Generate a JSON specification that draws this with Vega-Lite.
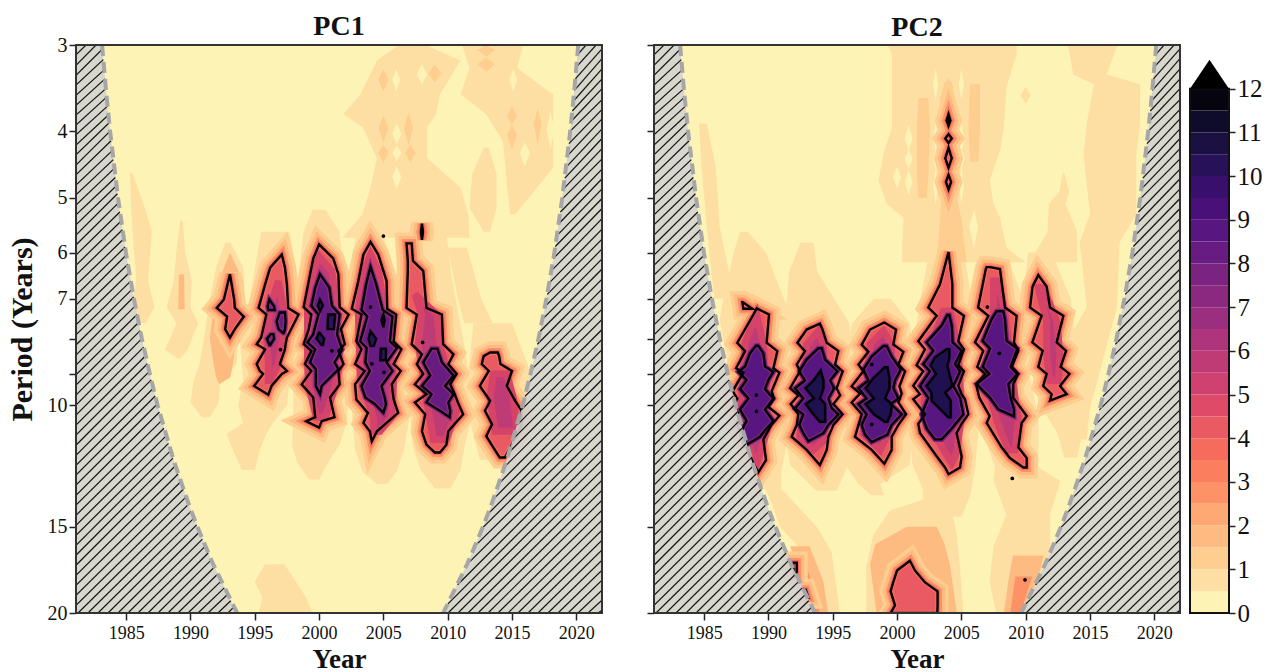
{"$schema":"https://vega.github.io/schema/vega-lite/v6.json","background":"white","padding":{"left":7,"top":13,"right":0,"bottom":0},"spacing":43,
"config":{"view":{"stroke":null},"axis":{"grid":false,"labelFont":"Liberation Serif","titleFont":"Liberation Serif","labelFontSize":18,"titleFontSize":27,"titleFontWeight":"bold","labelColor":"#111","titleColor":"#111","tickColor":"#222","tickWidth":1.5,"tickSize":7,"domain":false},"title":{"font":"Liberation Serif","fontSize":28,"fontWeight":"bold","color":"#111"}},
"datasets":{
"coi":[{"g":"L","p":3,"a":1981.1,"b":1983.13,"c":1983.13},{"g":"L","p":3.5,"a":1981.1,"b":1983.44,"c":1983.44},{"g":"L","p":4,"a":1981.1,"b":1983.75,"c":1983.75},{"g":"L","p":5,"a":1981.1,"b":1984.37,"c":1984.37},{"g":"L","p":6,"a":1981.1,"b":1984.98,"c":1984.98},{"g":"L","p":7,"a":1981.1,"b":1985.6,"c":1985.6},{"g":"L","p":8,"a":1981.1,"b":1986.22,"c":1986.22},{"g":"L","p":9,"a":1981.1,"b":1986.84,"c":1986.84},{"g":"L","p":10,"a":1981.1,"b":1987.45,"c":1987.45},{"g":"L","p":12,"a":1981.1,"b":1988.69,"c":1988.69},{"g":"L","p":14,"a":1981.1,"b":1989.92,"c":1989.92},{"g":"L","p":15,"a":1981.1,"b":1990.54,"c":1990.54},{"g":"L","p":17,"a":1981.1,"b":1991.77,"c":1991.77},{"g":"L","p":20,"a":1981.1,"b":1993.63,"c":1993.63},
{"g":"R","p":3,"a":2020.15,"b":2022,"c":2020.15},{"g":"R","p":3.5,"a":2019.84,"b":2022,"c":2019.84},{"g":"R","p":4,"a":2019.53,"b":2022,"c":2019.53},{"g":"R","p":5,"a":2018.91,"b":2022,"c":2018.91},{"g":"R","p":6,"a":2018.3,"b":2022,"c":2018.3},{"g":"R","p":7,"a":2017.68,"b":2022,"c":2017.68},{"g":"R","p":8,"a":2017.06,"b":2022,"c":2017.06},{"g":"R","p":9,"a":2016.44,"b":2022,"c":2016.44},{"g":"R","p":10,"a":2015.83,"b":2022,"c":2015.83},{"g":"R","p":12,"a":2014.59,"b":2022,"c":2014.59},{"g":"R","p":14,"a":2013.36,"b":2022,"c":2013.36},{"g":"R","p":15,"a":2012.74,"b":2022,"c":2012.74},{"g":"R","p":17,"a":2011.51,"b":2022,"c":2011.51},{"g":"R","p":20,"a":2009.65,"b":2022,"c":2009.65}],
"frame":[{"a":1981.1,"b":2022,"p":3,"q":20}],
"hatch":[{"a":1981.1,"p":3.1,"b":1981.88,"q":3},{"a":1981.1,"p":3.21,"b":1982.66,"q":3},{"a":1981.1,"p":3.32,"b":1983.16,"q":3.04},{"a":1981.1,"p":3.43,"b":1983.22,"q":3.15},{"a":1981.1,"p":3.55,"b":1983.29,"q":3.26},{"a":1981.1,"p":3.67,"b":1983.35,"q":3.36},{"a":1981.1,"p":3.79,"b":1983.42,"q":3.47},{"a":1981.1,"p":3.92,"b":1983.48,"q":3.57},{"a":1981.1,"p":4.05,"b":1983.55,"q":3.68},{"a":1981.1,"p":4.19,"b":1983.62,"q":3.79},{"a":1981.1,"p":4.33,"b":1983.68,"q":3.89},{"a":1981.1,"p":4.48,"b":1983.75,"q":4},{"a":1981.1,"p":4.63,"b":1983.83,"q":4.13},{"a":1981.1,"p":4.79,"b":1983.92,"q":4.27},{"a":1981.1,"p":4.95,"b":1984,"q":4.4},{"a":1981.1,"p":5.12,"b":1984.08,"q":4.53},{"a":1981.1,"p":5.29,"b":1984.16,"q":4.67},{"a":1981.1,"p":5.47,"b":1984.24,"q":4.8},{"a":1981.1,"p":5.66,"b":1984.32,"q":4.93},{"a":1981.1,"p":5.85,"b":1984.42,"q":5.08},{"a":1981.1,"p":6.05,"b":1984.51,"q":5.24},{"a":1981.1,"p":6.26,"b":1984.61,"q":5.4},{"a":1981.1,"p":6.47,"b":1984.71,"q":5.56},{"a":1981.1,"p":6.69,"b":1984.82,"q":5.73},{"a":1981.1,"p":6.92,"b":1984.92,"q":5.89},{"a":1981.1,"p":7.15,"b":1985.01,"q":6.05},{"a":1981.1,"p":7.39,"b":1985.13,"q":6.24},{"a":1981.1,"p":7.64,"b":1985.24,"q":6.42},{"a":1981.1,"p":7.9,"b":1985.35,"q":6.6},{"a":1981.1,"p":8.17,"b":1985.47,"q":6.78},{"a":1981.1,"p":8.45,"b":1985.58,"q":6.96},{"a":1981.1,"p":8.74,"b":1985.71,"q":7.17},{"a":1981.1,"p":9.03,"b":1985.84,"q":7.38},{"a":1981.1,"p":9.34,"b":1985.96,"q":7.58},{"a":1981.1,"p":9.66,"b":1986.09,"q":7.79},{"a":1981.1,"p":9.99,"b":1986.22,"q":8},{"a":1981.1,"p":10.33,"b":1986.36,"q":8.23},{"a":1981.1,"p":10.68,"b":1986.51,"q":8.47},{"a":1981.1,"p":11.04,"b":1986.65,"q":8.7},{"a":1981.1,"p":11.42,"b":1986.79,"q":8.93},{"a":1981.1,"p":11.81,"b":1986.95,"q":9.18},{"a":1981.1,"p":12.21,"b":1987.11,"q":9.44},{"a":1981.1,"p":12.62,"b":1987.26,"q":9.69},{"a":1981.1,"p":13.05,"b":1987.42,"q":9.95},{"a":1981.1,"p":13.5,"b":1987.59,"q":10.22},{"a":1981.1,"p":13.95,"b":1987.77,"q":10.51},{"a":1981.1,"p":14.43,"b":1987.94,"q":10.79},{"a":1981.1,"p":14.92,"b":1988.11,"q":11.07},{"a":1981.1,"p":15.43,"b":1988.29,"q":11.35},{"a":1981.1,"p":15.95,"b":1988.46,"q":11.63},{"a":1981.1,"p":16.49,"b":1988.64,"q":11.92},{"a":1981.1,"p":17.05,"b":1988.83,"q":12.23},{"a":1981.1,"p":17.63,"b":1989.04,"q":12.57},{"a":1981.1,"p":18.23,"b":1989.24,"q":12.9},{"a":1981.1,"p":18.85,"b":1989.45,"q":13.23},{"a":1981.1,"p":19.49,"b":1989.66,"q":13.57},{"a":1981.26,"p":20,"b":1989.86,"q":13.9},{"a":1982.03,"p":20,"b":1990.06,"q":14.23},{"a":1982.81,"p":20,"b":1990.27,"q":14.57},{"a":1983.59,"p":20,"b":1990.48,"q":14.9},{"a":1984.37,"p":20,"b":1990.7,"q":15.26},{"a":1985.14,"p":20,"b":1990.93,"q":15.63},{"a":1985.92,"p":20,"b":1991.16,"q":16},{"a":1986.7,"p":20,"b":1991.38,"q":16.37},{"a":1987.48,"p":20,"b":1991.62,"q":16.75},{"a":1988.25,"p":20,"b":1991.87,"q":17.15},{"a":1989.03,"p":20,"b":1992.12,"q":17.56},{"a":1989.81,"p":20,"b":1992.38,"q":17.98},{"a":1990.59,"p":20,"b":1992.63,"q":18.39},{"a":1991.36,"p":20,"b":1992.88,"q":18.8},{"a":1992.14,"p":20,"b":1993.13,"q":19.2},{"a":1992.92,"p":20,"b":1993.38,"q":19.6},
{"a":2020.09,"p":3.1,"b":2020.76,"q":3},{"a":2020,"p":3.23,"b":2021.54,"q":3},{"a":2019.93,"p":3.36,"b":2022,"q":3.04},{"a":2019.85,"p":3.49,"b":2022,"q":3.14},{"a":2019.77,"p":3.62,"b":2022,"q":3.25},{"a":2019.69,"p":3.74,"b":2022,"q":3.36},{"a":2019.61,"p":3.87,"b":2022,"q":3.47},{"a":2019.53,"p":4,"b":2022,"q":3.6},{"a":2019.43,"p":4.17,"b":2022,"q":3.72},{"a":2019.32,"p":4.34,"b":2022,"q":3.84},{"a":2019.22,"p":4.51,"b":2022,"q":3.97},{"a":2019.11,"p":4.68,"b":2022,"q":4.1},{"a":2019.01,"p":4.85,"b":2022,"q":4.24},{"a":2018.9,"p":5.02,"b":2022,"q":4.39},{"a":2018.77,"p":5.24,"b":2022,"q":4.54},{"a":2018.64,"p":5.45,"b":2022,"q":4.69},{"a":2018.5,"p":5.67,"b":2022,"q":4.85},{"a":2018.37,"p":5.88,"b":2022,"q":5.01},{"a":2018.22,"p":6.12,"b":2022,"q":5.18},{"a":2018.06,"p":6.38,"b":2022,"q":5.36},{"a":2017.9,"p":6.64,"b":2022,"q":5.55},{"a":2017.74,"p":6.9,"b":2022,"q":5.74},{"a":2017.56,"p":7.19,"b":2022,"q":5.93},{"a":2017.37,"p":7.5,"b":2022,"q":6.13},{"a":2017.18,"p":7.81,"b":2022,"q":6.34},{"a":2016.97,"p":8.15,"b":2022,"q":6.56},{"a":2016.75,"p":8.5,"b":2022,"q":6.78},{"a":2016.52,"p":8.87,"b":2022,"q":7.01},{"a":2016.27,"p":9.28,"b":2022,"q":7.25},{"a":2016.01,"p":9.7,"b":2022,"q":7.5},{"a":2015.73,"p":10.15,"b":2022,"q":7.76},{"a":2015.41,"p":10.67,"b":2022,"q":8.02},{"a":2015.1,"p":11.18,"b":2022,"q":8.3},{"a":2014.78,"p":11.69,"b":2022,"q":8.58},{"a":2014.42,"p":12.28,"b":2022,"q":8.87},{"a":2013.99,"p":12.98,"b":2022,"q":9.17},{"a":2013.56,"p":13.67,"b":2022,"q":9.49},{"a":2013.13,"p":14.37,"b":2022,"q":9.81},{"a":2012.71,"p":15.05,"b":2022,"q":10.15},{"a":2012.12,"p":16,"b":2022,"q":10.5},{"a":2011.51,"p":17,"b":2022,"q":10.85},{"a":2010.77,"p":18.2,"b":2022,"q":11.23},{"a":2010.02,"p":19.4,"b":2022,"q":11.61},{"a":2010.03,"p":20,"b":2022,"q":12},{"a":2010.8,"p":20,"b":2022,"q":12.41},{"a":2011.58,"p":20,"b":2022,"q":12.83},{"a":2012.36,"p":20,"b":2022,"q":13.27},{"a":2013.14,"p":20,"b":2022,"q":13.72},{"a":2013.91,"p":20,"b":2022,"q":14.19},{"a":2014.69,"p":20,"b":2022,"q":14.67},{"a":2015.47,"p":20,"b":2022,"q":15.17},{"a":2016.25,"p":20,"b":2022,"q":15.68},{"a":2017.02,"p":20,"b":2022,"q":16.2},{"a":2017.8,"p":20,"b":2022,"q":16.76},{"a":2018.58,"p":20,"b":2022,"q":17.33},{"a":2019.36,"p":20,"b":2022,"q":17.92},{"a":2020.13,"p":20,"b":2022,"q":18.53},{"a":2020.91,"p":20,"b":2022,"q":19.16},{"a":2021.69,"p":20,"b":2022,"q":19.81}],
"p1b":[
{"g":1,"v":0.75,"p":4.6,"a":1985.3,"b":1985.5},{"g":1,"v":0.75,"p":5.2,"a":1985.4,"b":1986.5},{"g":1,"v":0.75,"p":5.6,"a":1985.5,"b":1987},{"g":1,"v":0.75,"p":6.6,"a":1985.8,"b":1986.7},{"g":1,"v":0.75,"p":7.2,"a":1985.4,"b":1987.2},{"g":1,"v":0.75,"p":7.6,"a":1986.2,"b":1986.5},
{"g":2,"v":0.75,"p":5.4,"a":1989.2,"b":1989.4},{"g":2,"v":0.75,"p":6,"a":1988.9,"b":1989.6},{"g":2,"v":0.75,"p":6.6,"a":1988.7,"b":1990.1},{"g":2,"v":0.75,"p":7.2,"a":1988.15,"b":1990},{"g":2,"v":0.75,"p":7.6,"a":1988.9,"b":1990.6},{"g":2,"v":0.75,"p":8,"a":1988.4,"b":1990.1},{"g":2,"v":0.75,"p":8.3,"a":1988,"b":1989.8},{"g":2,"v":0.75,"p":8.55,"a":1989.05,"b":1989.2},
{"g":3,"v":0.75,"p":5.8,"a":1992.7,"b":1993.1},{"g":3,"v":0.75,"p":6.3,"a":1992,"b":1994.1},{"g":3,"v":0.75,"p":7.2,"a":1991.4,"b":1994.3},{"g":3,"v":0.75,"p":7.9,"a":1991.1,"b":1993.7},{"g":3,"v":0.75,"p":8.7,"a":1990.7,"b":1993.6},{"g":3,"v":0.75,"p":9.3,"a":1990.2,"b":1992.3},{"g":3,"v":0.75,"p":9.9,"a":1990,"b":1992.2},{"g":3,"v":0.75,"p":10.4,"a":1990.9,"b":1991.5},
{"g":4,"v":0.75,"p":5.6,"a":1995.5,"b":1997.7},{"g":4,"v":0.75,"p":7.2,"a":1994.5,"b":1998.8},{"g":4,"v":0.75,"p":8.1,"a":1993.85,"b":1998.5},{"g":4,"v":0.75,"p":9.2,"a":1994.1,"b":1997.7},{"g":4,"v":0.75,"p":10,"a":1993.7,"b":1997.5},{"g":4,"v":0.75,"p":10.6,"a":1994.1,"b":1996.4},{"g":4,"v":0.75,"p":11,"a":1992.8,"b":1995.9},{"g":4,"v":0.75,"p":11.6,"a":1993.3,"b":1995.4},{"g":4,"v":0.75,"p":12.4,"a":1994,"b":1995},
{"g":5,"v":0.75,"p":5.2,"a":1999.5,"b":2000.5},{"g":5,"v":0.75,"p":5.6,"a":1998.8,"b":2001.6},{"g":5,"v":0.75,"p":7.2,"a":1998.1,"b":2002.1},{"g":5,"v":0.75,"p":9,"a":1998,"b":2002.3},{"g":5,"v":0.75,"p":10.5,"a":1998,"b":2002.2},{"g":5,"v":0.75,"p":11.4,"a":1997.9,"b":2001.6},{"g":5,"v":0.75,"p":12.1,"a":1998.3,"b":2000.7},{"g":5,"v":0.75,"p":12.8,"a":1999.2,"b":2000},
{"g":6,"v":0.75,"p":5,"a":2003.8,"b":2004.4},{"g":6,"v":0.75,"p":5.6,"a":2002.9,"b":2005},{"g":6,"v":0.75,"p":7.2,"a":2002,"b":2006.2},{"g":6,"v":0.75,"p":9,"a":2002.3,"b":2007.1},{"g":6,"v":0.75,"p":10.5,"a":2002.6,"b":2007},{"g":6,"v":0.75,"p":11.6,"a":2002.8,"b":2006.6},{"g":6,"v":0.75,"p":12.5,"a":2003.4,"b":2006},{"g":6,"v":0.75,"p":13,"a":2004.5,"b":2005.3},
{"g":7,"v":0.75,"p":4.5,"a":2006.5,"b":2009},{"g":7,"v":0.75,"p":5.4,"a":2005.8,"b":2009.8},{"g":7,"v":0.75,"p":6.5,"a":2006.1,"b":2010.3},{"g":7,"v":0.75,"p":8,"a":2006.5,"b":2011.2},{"g":7,"v":0.75,"p":10,"a":2007,"b":2012.1},{"g":7,"v":0.75,"p":11.5,"a":2007.3,"b":2011.3},{"g":7,"v":0.75,"p":12.4,"a":2007.9,"b":2011},{"g":7,"v":0.75,"p":13.2,"a":2009,"b":2010.2},
{"g":8,"v":0.75,"p":7.6,"a":2012,"b":2015},{"g":8,"v":0.75,"p":9,"a":2011.6,"b":2016.5},{"g":8,"v":0.75,"p":10.5,"a":2011.7,"b":2016.5},{"g":8,"v":0.75,"p":12,"a":2012.5,"b":2015},
{"g":9,"v":0.75,"p":17,"a":1995.8,"b":1997.3},{"g":9,"v":0.75,"p":18,"a":1995,"b":1998.2},{"g":9,"v":0.75,"p":19,"a":1995.6,"b":1999},{"g":9,"v":0.75,"p":20,"a":1995.3,"b":1999.5},
{"g":10,"v":0.75,"p":2.99,"a":2006.3,"b":2008.1},{"g":10,"v":0.75,"p":3.16,"a":2004.5,"b":2011},{"g":10,"v":0.75,"p":3.54,"a":2003.2,"b":2009.4},{"g":10,"v":0.75,"p":3.78,"a":2001.9,"b":2009.1},{"g":10,"v":0.75,"p":3.95,"a":2003.4,"b":2008.4},{"g":10,"v":0.75,"p":4.38,"a":2004.5,"b":2008.4},{"g":10,"v":0.75,"p":4.83,"a":2004,"b":2011},{"g":10,"v":0.75,"p":5.28,"a":2003.4,"b":2011.6},{"g":10,"v":0.75,"p":5.71,"a":2001.8,"b":2011.7},
{"g":11,"v":0.75,"p":2.99,"a":2011.1,"b":2015.9},{"g":11,"v":0.75,"p":3.24,"a":2011.7,"b":2015.4},{"g":11,"v":0.75,"p":3.54,"a":2011,"b":2018.2},{"g":11,"v":0.75,"p":3.78,"a":2013,"b":2018.2},{"g":11,"v":0.75,"p":4.14,"a":2014.3,"b":2018.2},{"g":11,"v":0.75,"p":4.52,"a":2014.5,"b":2018.2},{"g":11,"v":0.75,"p":4.77,"a":2014.6,"b":2017.2},{"g":11,"v":0.75,"p":5.28,"a":2014.85,"b":2015.25},
{"g":12,"v":0.75,"p":4.23,"a":2012.8,"b":2013.2},{"g":12,"v":0.75,"p":4.62,"a":2011.9,"b":2013.8},{"g":12,"v":0.75,"p":5.17,"a":2011.7,"b":2013.8},{"g":12,"v":0.75,"p":5.6,"a":2012.8,"b":2013.3},
{"g":13,"v":0.75,"p":5.9,"a":2010,"b":2011.5},{"g":13,"v":0.75,"p":7,"a":2010.8,"b":2012.6},{"g":13,"v":0.75,"p":7.6,"a":2011.3,"b":2013.5},
{"g":14,"v":0.25,"p":3.9,"a":2006.04,"b":2006.04},{"g":14,"v":0.25,"p":4.04,"a":2005.7,"b":2006.4},{"g":14,"v":0.25,"p":4.18,"a":2006.04,"b":2006.04},
{"g":15,"v":0.25,"p":4.2,"a":2006.04,"b":2006.04},{"g":15,"v":0.25,"p":4.3,"a":2005.7,"b":2006.4},{"g":15,"v":0.25,"p":4.42,"a":2006.04,"b":2006.04},
{"g":16,"v":0.25,"p":4.5,"a":2006.04,"b":2006.04},{"g":16,"v":0.25,"p":4.66,"a":2005.7,"b":2006.4},{"g":16,"v":0.25,"p":4.85,"a":2006.04,"b":2006.04},
{"g":17,"v":0.25,"p":3.2,"a":2008,"b":2008},{"g":17,"v":0.25,"p":3.31,"a":2007.6,"b":2008.4},{"g":17,"v":0.25,"p":3.42,"a":2008,"b":2008},
{"g":18,"v":0.25,"p":3.25,"a":2006,"b":2006},{"g":18,"v":0.25,"p":3.37,"a":2005.7,"b":2006.3},{"g":18,"v":0.25,"p":3.5,"a":2006,"b":2006},
{"g":19,"v":0.25,"p":4.15,"a":2016,"b":2016},{"g":19,"v":0.25,"p":4.3,"a":2015.6,"b":2016.4},{"g":19,"v":0.25,"p":4.5,"a":2016,"b":2016},
{"g":20,"v":0.25,"p":3.75,"a":2018,"b":2018},{"g":20,"v":0.25,"p":3.97,"a":2017.7,"b":2018.3},{"g":20,"v":0.25,"p":4.25,"a":2018,"b":2018},
{"g":21,"v":0.25,"p":3.25,"a":2015.1,"b":2015.1},{"g":21,"v":0.25,"p":3.37,"a":2014.8,"b":2015.4},{"g":21,"v":0.25,"p":3.5,"a":2015.1,"b":2015.1},
{"g":22,"v":1.25,"p":3.25,"a":2005,"b":2005},{"g":22,"v":1.25,"p":3.37,"a":2004.6,"b":2005.4},{"g":22,"v":1.25,"p":3.5,"a":2005,"b":2005},
{"g":23,"v":1.25,"p":3.8,"a":2005,"b":2005},{"g":23,"v":1.25,"p":3.96,"a":2004.6,"b":2005.4},{"g":23,"v":1.25,"p":4.15,"a":2005,"b":2005},
{"g":24,"v":1.25,"p":3.75,"a":2006.95,"b":2006.95},{"g":24,"v":1.25,"p":3.96,"a":2006.6,"b":2007.3},{"g":24,"v":1.25,"p":4.2,"a":2006.95,"b":2006.95},
{"g":25,"v":1.25,"p":4.18,"a":2005,"b":2005},{"g":25,"v":1.25,"p":4.3,"a":2004.6,"b":2005.4},{"g":25,"v":1.25,"p":4.45,"a":2005,"b":2005},
{"g":26,"v":1.25,"p":4.18,"a":2007.1,"b":2007.1},{"g":26,"v":1.25,"p":4.3,"a":2006.7,"b":2007.5},{"g":26,"v":1.25,"p":4.45,"a":2007.1,"b":2007.1},
{"g":27,"v":1.25,"p":3.2,"a":2009,"b":2009},{"g":27,"v":1.25,"p":3.3,"a":2008.5,"b":2009.5},{"g":27,"v":1.25,"p":3.4,"a":2009,"b":2009},
{"g":28,"v":1.25,"p":3,"a":2013,"b":2013},{"g":28,"v":1.25,"p":3.05,"a":2012.3,"b":2013.7},{"g":28,"v":1.25,"p":3.12,"a":2013,"b":2013},
{"g":29,"v":1.25,"p":3.13,"a":2013,"b":2013},{"g":29,"v":1.25,"p":3.2,"a":2012.3,"b":2013.7},{"g":29,"v":1.25,"p":3.28,"a":2013,"b":2013},
{"g":30,"v":1.25,"p":3.68,"a":2015,"b":2015},{"g":30,"v":1.25,"p":3.8,"a":2014.6,"b":2015.4},{"g":30,"v":1.25,"p":3.92,"a":2015,"b":2015},
{"g":31,"v":1.25,"p":3.92,"a":2015,"b":2015},{"g":31,"v":1.25,"p":4.05,"a":2014.6,"b":2015.4},{"g":31,"v":1.25,"p":4.25,"a":2015,"b":2015},
{"g":32,"v":1.25,"p":3.7,"a":2017,"b":2017},{"g":32,"v":1.25,"p":3.9,"a":2016.7,"b":2017.3},{"g":32,"v":1.25,"p":4.2,"a":2017,"b":2017},
{"g":33,"v":1.75,"p":6.45,"a":1989.1,"b":1989.5},{"g":33,"v":1.75,"p":7.25,"a":1989.05,"b":1989.55},
{"g":34,"v":1.75,"p":6,"a":1993.07,"b":1993.07},{"g":34,"v":1.75,"p":6.6,"a":1992.2,"b":1994.1},{"g":34,"v":1.75,"p":7.2,"a":1991.8,"b":1994.2},{"g":34,"v":1.75,"p":8,"a":1991.5,"b":1993.6},{"g":34,"v":1.75,"p":8.7,"a":1991.8,"b":1993.3},{"g":34,"v":1.75,"p":9.1,"a":1992,"b":1993.1},{"g":34,"v":1.75,"p":9.3,"a":1992.2,"b":1992.3}],
"p1c4":[
{"g":1,"p":5.84,"a":2000,"b":2000},{"g":1,"p":6.12,"a":1999.55,"b":2001.1},{"g":1,"p":6.45,"a":1999.3,"b":2001.5},{"g":1,"p":7.2,"a":1998.8,"b":2001.6},{"g":1,"p":7.38,"a":1999.4,"b":2002.3},{"g":1,"p":7.75,"a":1999.2,"b":2001.7},{"g":1,"p":8.15,"a":1998.8,"b":2002},{"g":1,"p":8.33,"a":1999.4,"b":2001.5},{"g":1,"p":8.71,"a":1998.9,"b":2001.9},{"g":1,"p":8.91,"a":1999.4,"b":2001.5},{"g":1,"p":9.32,"a":1998.65,"b":2001.6},{"g":1,"p":9.74,"a":1999.55,"b":2000.85},{"g":1,"p":10.4,"a":1999.7,"b":2001.2},{"g":1,"p":10.54,"a":1999,"b":2000.2},{"g":1,"p":10.77,"a":2000,"b":2000},
{"g":2,"p":6.04,"a":1997.1,"b":1997.1},{"g":2,"p":6.31,"a":1996.2,"b":1997.35},{"g":2,"p":6.68,"a":1995.8,"b":1997.5},{"g":2,"p":7.22,"a":1995.3,"b":1997.6},{"g":2,"p":7.38,"a":1995.9,"b":1998.4},{"g":2,"p":7.97,"a":1995.5,"b":1997.5},{"g":2,"p":8.15,"a":1995.15,"b":1997.4},{"g":2,"p":8.29,"a":1995.8,"b":1997.35},{"g":2,"p":8.71,"a":1995.15,"b":1996.95},{"g":2,"p":8.91,"a":1995.4,"b":1997.5},{"g":2,"p":9,"a":1995.65,"b":1997.1},{"g":2,"p":9.37,"a":1994.95,"b":1996.3},{"g":2,"p":9.65,"a":1996.05,"b":1996.05},
{"g":3,"p":5.79,"a":2004,"b":2004},{"g":3,"p":6.04,"a":2003.45,"b":2004.6},{"g":3,"p":6.6,"a":2003.05,"b":2005.25},{"g":3,"p":7.24,"a":2002.55,"b":2005.3},{"g":3,"p":7.38,"a":2003.3,"b":2006},{"g":3,"p":8.07,"a":2002.9,"b":2005.8},{"g":3,"p":8.29,"a":2003.3,"b":2006.4},{"g":3,"p":8.71,"a":2002.8,"b":2005.8},{"g":3,"p":8.91,"a":2003.55,"b":2006.35},{"g":3,"p":9.32,"a":2002.8,"b":2005.65},{"g":3,"p":9.8,"a":2002.9,"b":2005.8},{"g":3,"p":10.25,"a":2003.8,"b":2006.15},{"g":3,"p":10.6,"a":2003.45,"b":2005.25},{"g":3,"p":10.9,"a":2003.95,"b":2004.5},{"g":3,"p":11.27,"a":2004.1,"b":2004.1},
{"g":4,"p":5.82,"a":2006.8,"b":2007.2},{"g":4,"p":6.17,"a":2006.9,"b":2007.3},{"g":4,"p":6.38,"a":2006.9,"b":2008.1},{"g":4,"p":7.22,"a":2006.8,"b":2008.35},{"g":4,"p":7.38,"a":2007.6,"b":2009.55},{"g":4,"p":8.15,"a":2007.2,"b":2009.65},{"g":4,"p":8.43,"a":2008,"b":2010.45},{"g":4,"p":8.71,"a":2007.6,"b":2010.05},{"g":4,"p":9,"a":2008.1,"b":2010.7},{"g":4,"p":9.32,"a":2007.45,"b":2010.2},{"g":4,"p":9.63,"a":2008.35,"b":2010.55},{"g":4,"p":9.9,"a":2007.45,"b":2010.8},{"g":4,"p":10.3,"a":2008.25,"b":2011.2},{"g":4,"p":10.9,"a":2008,"b":2010.05},{"g":4,"p":11.4,"a":2008.35,"b":2009.9},{"g":4,"p":11.7,"a":2009,"b":2009.4},
{"g":5,"p":8.38,"a":2013.3,"b":2013.9},{"g":5,"p":8.48,"a":2012.8,"b":2014},{"g":5,"p":8.71,"a":2012.65,"b":2014.1},{"g":5,"p":8.91,"a":2013.2,"b":2015},{"g":5,"p":9.37,"a":2012.5,"b":2014.6},{"g":5,"p":9.85,"a":2013.3,"b":2015.25},{"g":5,"p":10.18,"a":2012.9,"b":2015.75},{"g":5,"p":10.65,"a":2013.45,"b":2015.75},{"g":5,"p":11.08,"a":2013,"b":2015.35},{"g":5,"p":11.9,"a":2014.05,"b":2014.45},
{"g":6,"p":6.45,"a":1993.07,"b":1993.07},{"g":6,"p":7.02,"a":1992.6,"b":1993.4},{"g":6,"p":7.22,"a":1992.05,"b":1993.45},{"g":6,"p":7.43,"a":1992.85,"b":1994.15},{"g":6,"p":7.75,"a":1992.7,"b":1993.45},{"g":6,"p":7.97,"a":1993.07,"b":1993.07},
{"g":7,"p":5.45,"a":2008,"b":2008},{"g":7,"p":5.6,"a":2007.92,"b":2008.08},{"g":7,"p":5.75,"a":2008,"b":2008}],
"p1m":[
{"g":1,"p":6.6,"a":1996.83,"b":1996.83},{"g":1,"p":7.22,"a":1996.19,"b":1997.22},{"g":1,"p":7.97,"a":1995.93,"b":1997.22},{"g":1,"p":8.71,"a":1996.06,"b":1996.83},{"g":1,"p":9.2,"a":1996.06,"b":1996.19},
{"g":2,"p":6.08,"a":2000.02,"b":2000.02},{"g":2,"p":6.38,"a":1999.55,"b":2000.98},{"g":2,"p":7.22,"a":1999.1,"b":2001.42},{"g":2,"p":8.71,"a":1999.1,"b":2001.63},{"g":2,"p":9.42,"a":1999.2,"b":2001.24},{"g":2,"p":10.4,"a":1999.8,"b":2000.47},
{"g":3,"p":6.04,"a":2004,"b":2004},{"g":3,"p":6.38,"a":2003.45,"b":2004.6},{"g":3,"p":7.3,"a":2003.05,"b":2005.13},{"g":3,"p":9.11,"a":2003.2,"b":2005.8},{"g":3,"p":10.4,"a":2004.22,"b":2005.65},{"g":3,"p":10.9,"a":2004.27,"b":2004.74},
{"g":4,"p":6.9,"a":2007.46,"b":2007.46},{"g":4,"p":7.38,"a":2007.98,"b":2009.15},{"g":4,"p":8.15,"a":2007.72,"b":2009.4},{"g":4,"p":10.18,"a":2008.5,"b":2010.7},{"g":4,"p":11.2,"a":2008.9,"b":2009.9},
{"g":5,"p":9,"a":2013.55,"b":2014.6},{"g":5,"p":9.74,"a":2013.3,"b":2015.1},{"g":5,"p":10.9,"a":2013.68,"b":2015.4}],
"p1c8":[
{"g":1,"p":6.45,"a":2000.07,"b":2000.07},{"g":1,"p":6.75,"a":1999.7,"b":2000.8},{"g":1,"p":7.17,"a":1999.4,"b":2001},{"g":1,"p":7.38,"a":1999.95,"b":2001.6},{"g":1,"p":7.88,"a":1999.55,"b":2001.4},{"g":1,"p":8.1,"a":1999.1,"b":2001.6},{"g":1,"p":8.29,"a":1999.7,"b":2001.8},{"g":1,"p":8.66,"a":1999.3,"b":2001.2},{"g":1,"p":8.86,"a":1999.75,"b":2001.5},{"g":1,"p":9.11,"a":1999.75,"b":2000.85},{"g":1,"p":9.37,"a":1999.75,"b":2000.2},{"g":1,"p":9.63,"a":2000.07,"b":2000.07},
{"g":2,"p":6.29,"a":2004,"b":2004},{"g":2,"p":6.68,"a":2003.65,"b":2004.45},{"g":2,"p":7.27,"a":2003.3,"b":2004.95},{"g":2,"p":7.43,"a":2003.75,"b":2005.7},{"g":2,"p":8.07,"a":2003.2,"b":2005.5},{"g":2,"p":8.25,"a":2003.7,"b":2006.05},{"g":2,"p":8.66,"a":2003.6,"b":2005.25},{"g":2,"p":8.91,"a":2003.95,"b":2005.7},{"g":2,"p":9.37,"a":2003.3,"b":2004.85},{"g":2,"p":9.74,"a":2003.6,"b":2005.1},{"g":2,"p":9.96,"a":2004.35,"b":2005.2},{"g":2,"p":10.25,"a":2005,"b":2005},
{"g":3,"p":8.27,"a":2008.75,"b":2009.2},{"g":3,"p":8.66,"a":2008.1,"b":2009.55},{"g":3,"p":9.05,"a":2008.65,"b":2010.45},{"g":3,"p":9.37,"a":2008,"b":2009.8},{"g":3,"p":9.63,"a":2008.75,"b":2010.45},{"g":3,"p":9.9,"a":2008.35,"b":2010.05},{"g":3,"p":10.18,"a":2009.4,"b":2010.2},{"g":3,"p":10.4,"a":2010.15,"b":2010.15},
{"g":4,"p":7.02,"a":1996.13,"b":1996.13},{"g":4,"p":7.18,"a":1996,"b":1996.5},{"g":4,"p":7.27,"a":1996.05,"b":1996.55},
{"g":5,"p":7.33,"a":1996.95,"b":1997.35},{"g":5,"p":7.55,"a":1996.7,"b":1997.4},{"g":5,"p":7.75,"a":1996.85,"b":1997.35},{"g":5,"p":7.85,"a":1997.2,"b":1997.25},
{"g":6,"p":7.88,"a":1996.25,"b":1996.45},{"g":6,"p":8,"a":1995.95,"b":1996.5},{"g":6,"p":8.17,"a":1996.15,"b":1996.2}],
"p1c10":[
{"g":1,"p":7.02,"a":2000.07,"b":2000.07},{"g":1,"p":7.16,"a":1999.9,"b":2000.3},{"g":1,"p":7.3,"a":2000.07,"b":2000.07},
{"g":2,"p":7.38,"a":2000.7,"b":2001.25},{"g":2,"p":7.75,"a":2000.65,"b":2001.15},
{"g":3,"p":7.84,"a":2000,"b":2000.05},{"g":3,"p":8,"a":1999.8,"b":2000.4},{"g":3,"p":8.17,"a":2000.2,"b":2000.3},
{"g":4,"p":7.38,"a":2005,"b":2005},{"g":4,"p":7.52,"a":2004.85,"b":2005.1},{"g":4,"p":7.7,"a":2005,"b":2005},
{"g":5,"p":7.8,"a":2004,"b":2004},{"g":5,"p":8,"a":2003.85,"b":2004.45},{"g":5,"p":8.2,"a":2004,"b":2004.25},
{"g":6,"p":8.27,"a":2004.8,"b":2005.2},{"g":6,"p":8.6,"a":2004.75,"b":2005.2}],
"p1d":[{"a":1997,"p":8.3},{"a":2001,"p":8.33},{"a":2004,"p":7.2},{"a":2004.1,"p":8.7},{"a":2005.05,"p":8.95},{"a":2008.05,"p":8.1},{"a":2005,"p":5.68}],
"p2b":[
{"g":1,"v":0.75,"p":3.01,"a":1999.3,"b":2009.3},{"g":1,"v":0.75,"p":3.09,"a":1999.6,"b":2009.3},{"g":1,"v":0.75,"p":3.46,"a":1999.6,"b":2008.5},{"g":1,"v":0.75,"p":3.96,"a":1999.6,"b":2008.3},{"g":1,"v":0.75,"p":4.27,"a":1999,"b":2008},{"g":1,"v":0.75,"p":4.72,"a":1998.55,"b":2007.2},{"g":1,"v":0.75,"p":5.1,"a":1999.2,"b":2007.5},{"g":1,"v":0.75,"p":5.34,"a":2000.5,"b":2008},{"g":1,"v":0.75,"p":5.9,"a":2000.4,"b":2008.5},{"g":1,"v":0.75,"p":6.2,"a":2000.4,"b":2010},
{"g":2,"v":0.75,"p":3.9,"a":1984.6,"b":1985.2},{"g":2,"v":0.75,"p":4.5,"a":1984.8,"b":1985.9},{"g":2,"v":0.75,"p":5.5,"a":1985.2,"b":1986.2},{"g":2,"v":0.75,"p":6.5,"a":1985.6,"b":1987},{"g":2,"v":0.75,"p":7,"a":1985.8,"b":1987.2},
{"g":34,"v":0.75,"p":5.6,"a":1987.8,"b":1988.4},{"g":34,"v":0.75,"p":6,"a":1987.3,"b":1989.8},{"g":34,"v":0.75,"p":7,"a":1986.5,"b":1991.2},{"g":34,"v":0.75,"p":7.5,"a":1986.2,"b":1992},{"g":34,"v":0.75,"p":9,"a":1987,"b":1992},{"g":34,"v":0.75,"p":10.5,"a":1987.6,"b":1991.8},{"g":34,"v":0.75,"p":12.5,"a":1989,"b":1991},{"g":34,"v":0.75,"p":13.5,"a":1990,"b":1991},
{"g":3,"v":0.75,"p":5.8,"a":1992.5,"b":1993.5},{"g":3,"v":0.75,"p":6.4,"a":1991.6,"b":1993.8},{"g":3,"v":0.75,"p":7.6,"a":1991.3,"b":1996.3},{"g":3,"v":0.75,"p":9,"a":1990.9,"b":1996.7},{"g":3,"v":0.75,"p":10.5,"a":1991,"b":1996.7},{"g":3,"v":0.75,"p":12.2,"a":1991.7,"b":1996.2},{"g":3,"v":0.75,"p":13.3,"a":1993.7,"b":1995.3},
{"g":4,"v":0.75,"p":7,"a":1998.2,"b":1999.5},{"g":4,"v":0.75,"p":7.6,"a":1996.5,"b":2001},{"g":4,"v":0.75,"p":9,"a":1995.9,"b":2001.3},{"g":4,"v":0.75,"p":10.5,"a":1995.9,"b":2001.3},{"g":4,"v":0.75,"p":12.2,"a":1996,"b":2001},{"g":4,"v":0.75,"p":13,"a":1997,"b":1998.7},{"g":4,"v":0.75,"p":13.5,"a":1998,"b":1999},
{"g":5,"v":0.75,"p":6,"a":2002.5,"b":2005.2},{"g":5,"v":0.75,"p":7.2,"a":2001.7,"b":2005.9},{"g":5,"v":0.75,"p":9,"a":2001,"b":2006.1},{"g":5,"v":0.75,"p":10.5,"a":2000.9,"b":2006.4},{"g":5,"v":0.75,"p":12.2,"a":2001.2,"b":2006.1},{"g":5,"v":0.75,"p":13.5,"a":2002.2,"b":2005.7},{"g":5,"v":0.75,"p":14.5,"a":2003.2,"b":2005},
{"g":6,"v":0.75,"p":6,"a":2006.3,"b":2008.5},{"g":6,"v":0.75,"p":7.2,"a":2005.7,"b":2010},{"g":6,"v":0.75,"p":9,"a":2005.9,"b":2010.3},{"g":6,"v":0.75,"p":10.5,"a":2006.4,"b":2011},{"g":6,"v":0.75,"p":12.3,"a":2007.6,"b":2011},{"g":6,"v":0.75,"p":12.87,"a":2007.5,"b":2012.7},{"g":6,"v":0.75,"p":14.4,"a":2008.5,"b":2011.9},{"g":6,"v":0.75,"p":16,"a":2007.5,"b":2011.9},{"g":6,"v":0.75,"p":18,"a":2007.2,"b":2011.4},{"g":6,"v":0.75,"p":20,"a":2007.7,"b":2009.8},
{"g":7,"v":0.75,"p":12.87,"a":2002,"b":2005},{"g":7,"v":0.75,"p":13.7,"a":2002,"b":2004.4},{"g":7,"v":0.75,"p":14.2,"a":1999.45,"b":2004.25},{"g":7,"v":0.75,"p":15.4,"a":1998.15,"b":2004.65},{"g":7,"v":0.75,"p":17.2,"a":1997.6,"b":2004.9},{"g":7,"v":0.75,"p":20,"a":1997.6,"b":2005.15},
{"g":8,"v":0.75,"p":13.3,"a":1989.9,"b":1991.15},{"g":8,"v":0.75,"p":15,"a":1990.9,"b":1993.75},{"g":8,"v":0.75,"p":16.3,"a":1992.7,"b":1994.9},{"g":8,"v":0.75,"p":20,"a":1993.5,"b":1995.56},
{"g":9,"v":0.75,"p":3.01,"a":2013.3,"b":2017.1},{"g":9,"v":0.75,"p":3.31,"a":2013.7,"b":2016.3},{"g":9,"v":0.75,"p":3.42,"a":2015.3,"b":2018.9},{"g":9,"v":0.75,"p":3.9,"a":2014.75,"b":2018.9},{"g":9,"v":0.75,"p":4.33,"a":2014.5,"b":2018.6},{"g":9,"v":0.75,"p":5.28,"a":2015,"b":2018.6},{"g":9,"v":0.75,"p":5.8,"a":2014.2,"b":2017.3},{"g":9,"v":0.75,"p":7.2,"a":2014.75,"b":2017.1},{"g":9,"v":0.75,"p":8.6,"a":2012.4,"b":2016},{"g":9,"v":0.75,"p":10.1,"a":2013.2,"b":2015},{"g":9,"v":0.75,"p":11.2,"a":2014.2,"b":2014.75},
{"g":10,"v":0.75,"p":6,"a":2010.2,"b":2012},{"g":10,"v":0.75,"p":7,"a":2009.8,"b":2013.5},{"g":10,"v":0.75,"p":8.5,"a":2010.2,"b":2014},{"g":10,"v":0.75,"p":9.9,"a":2011,"b":2014.5},{"g":10,"v":0.75,"p":11,"a":2012.5,"b":2014.4},{"g":10,"v":0.75,"p":11.9,"a":2013,"b":2014},
{"g":11,"v":0.75,"p":3.45,"a":2010,"b":2010},{"g":11,"v":0.75,"p":3.55,"a":2009.6,"b":2010.4},{"g":11,"v":0.75,"p":3.65,"a":2010,"b":2010},
{"g":12,"v":0.75,"p":4.6,"a":2012.9,"b":2013},{"g":12,"v":0.75,"p":4.9,"a":2012.6,"b":2013.4},{"g":12,"v":0.75,"p":5.1,"a":2011.8,"b":2013.1},{"g":12,"v":0.75,"p":5.6,"a":2011.7,"b":2014},{"g":12,"v":0.75,"p":6.2,"a":2010.3,"b":2014},
{"g":13,"v":0.25,"p":3.92,"a":2000.9,"b":2000.9},{"g":13,"v":0.25,"p":4.1,"a":2000.6,"b":2001.2},{"g":13,"v":0.25,"p":4.28,"a":2000.9,"b":2000.9},
{"g":14,"v":0.25,"p":4.25,"a":2000.9,"b":2000.9},{"g":14,"v":0.25,"p":4.38,"a":2000.6,"b":2001.2},{"g":14,"v":0.25,"p":4.55,"a":2000.9,"b":2000.9},
{"g":15,"v":0.25,"p":4.5,"a":2000,"b":2000},{"g":15,"v":0.25,"p":4.66,"a":1999.7,"b":2000.3},{"g":15,"v":0.25,"p":4.85,"a":2000,"b":2000},
{"g":16,"v":0.25,"p":4.55,"a":2000.9,"b":2000.9},{"g":16,"v":0.25,"p":4.74,"a":2000.6,"b":2001.2},{"g":16,"v":0.25,"p":4.95,"a":2000.9,"b":2000.9},
{"g":17,"v":0.25,"p":3.9,"a":2003,"b":2003},{"g":17,"v":0.25,"p":4.1,"a":2002.8,"b":2003.2},{"g":17,"v":0.25,"p":4.3,"a":2003,"b":2003},
{"g":18,"v":0.25,"p":4.25,"a":2003,"b":2003},{"g":18,"v":0.25,"p":4.38,"a":2002.8,"b":2003.2},{"g":18,"v":0.25,"p":4.55,"a":2003,"b":2003},
{"g":19,"v":0.25,"p":4.5,"a":2003,"b":2003},{"g":19,"v":0.25,"p":4.8,"a":2002.8,"b":2003.2},{"g":19,"v":0.25,"p":5.1,"a":2003,"b":2003},
{"g":20,"v":0.25,"p":3.9,"a":2005,"b":2005},{"g":20,"v":0.25,"p":4.1,"a":2004.75,"b":2005.25},{"g":20,"v":0.25,"p":4.3,"a":2005,"b":2005},
{"g":21,"v":0.25,"p":4.25,"a":2005,"b":2005},{"g":21,"v":0.25,"p":4.38,"a":2004.75,"b":2005.25},{"g":21,"v":0.25,"p":4.55,"a":2005,"b":2005},
{"g":22,"v":0.25,"p":4.5,"a":2005,"b":2005},{"g":22,"v":0.25,"p":4.8,"a":2004.8,"b":2005.2},{"g":22,"v":0.25,"p":5.1,"a":2005,"b":2005},
{"g":23,"v":0.25,"p":3.25,"a":2003,"b":2003},{"g":23,"v":0.25,"p":3.42,"a":2002.8,"b":2003.2},{"g":23,"v":0.25,"p":3.6,"a":2003,"b":2003},
{"g":24,"v":0.25,"p":3.25,"a":2005,"b":2005},{"g":24,"v":0.25,"p":3.42,"a":2004.8,"b":2005.2},{"g":24,"v":0.25,"p":3.6,"a":2005,"b":2005},
{"g":25,"v":0.25,"p":5.2,"a":2006,"b":2006},{"g":25,"v":0.25,"p":5.5,"a":2005.6,"b":2006.3},{"g":25,"v":0.25,"p":5.9,"a":2006,"b":2006},
{"g":26,"v":1.25,"p":3.39,"a":2003.73,"b":2004.25},{"g":26,"v":1.25,"p":3.58,"a":2003.34,"b":2004.5},{"g":26,"v":1.25,"p":4.83,"a":2003.47,"b":2004.5},{"g":26,"v":1.25,"p":5.4,"a":2003.34,"b":2005.03},{"g":26,"v":1.25,"p":6.2,"a":2003.08,"b":2005.41},
{"g":27,"v":1.25,"p":3.58,"a":2001.66,"b":2002.43},{"g":27,"v":1.25,"p":3.96,"a":2001.53,"b":2002.56},{"g":27,"v":1.25,"p":4.63,"a":2001.53,"b":2002.43},{"g":27,"v":1.25,"p":5,"a":2001.66,"b":2002.3},
{"g":28,"v":1.25,"p":3.42,"a":2005.67,"b":2006.45},{"g":28,"v":1.25,"p":3.96,"a":2005.54,"b":2006.45},{"g":28,"v":1.25,"p":4.43,"a":2005.67,"b":2006.32},
{"g":29,"v":1.75,"p":16.5,"a":2009,"b":2011.4},{"g":29,"v":1.75,"p":18,"a":2008.65,"b":2010.9},{"g":29,"v":1.75,"p":20,"a":2008.3,"b":2009.6},
{"g":30,"v":1.75,"p":15,"a":2000.75,"b":2003.1},{"g":30,"v":1.75,"p":15.9,"a":1998.3,"b":2003.7},{"g":30,"v":1.75,"p":17,"a":1997.9,"b":2004.1},{"g":30,"v":1.75,"p":20,"a":1998.4,"b":2004.65},
{"g":31,"v":1.75,"p":16,"a":1991.7,"b":1993.2},{"g":31,"v":1.75,"p":18,"a":1992.45,"b":1994.27},{"g":31,"v":1.75,"p":20,"a":1993.2,"b":1994.65},
{"g":32,"v":2.75,"p":17.7,"a":2009.2,"b":2010.5},{"g":32,"v":2.75,"p":20,"a":2008.8,"b":2009.6},
{"g":33,"v":2.75,"p":17.2,"a":1991.9,"b":1993},{"g":33,"v":2.75,"p":20,"a":1992.7,"b":1994}],
"p2c4":[
{"g":1,"p":7.23,"a":1989.08,"b":1989.08},{"g":1,"p":7.38,"a":1988.83,"b":1990.04},{"g":1,"p":8.11,"a":1987.58,"b":1989.86},{"g":1,"p":8.34,"a":1988.18,"b":1990.69},{"g":1,"p":8.83,"a":1987.48,"b":1990.38},{"g":1,"p":8.96,"a":1988.05,"b":1990.85},{"g":1,"p":9.53,"a":1987.22,"b":1990.25},{"g":1,"p":9.77,"a":1987.58,"b":1990.43},{"g":1,"p":10.05,"a":1987.27,"b":1990},{"g":1,"p":10.35,"a":1987.79,"b":1990.85},{"g":1,"p":10.66,"a":1987.53,"b":1990.25},{"g":1,"p":11.2,"a":1988.18,"b":1989.6},{"g":1,"p":12,"a":1988.7,"b":1989.81},{"g":1,"p":12.5,"a":1989.21,"b":1989.21},
{"g":2,"p":7.08,"a":1987.97,"b":1988},{"g":2,"p":7.24,"a":1988.05,"b":1988.75},
{"g":3,"p":7.61,"a":1994,"b":1994},{"g":3,"p":7.76,"a":1992.97,"b":1994.2},{"g":3,"p":8.11,"a":1992.25,"b":1994.53},{"g":3,"p":8.34,"a":1992.84,"b":1995.43},{"g":3,"p":8.72,"a":1992.2,"b":1995.18},{"g":3,"p":8.92,"a":1992.45,"b":1995.77},{"g":3,"p":9.44,"a":1991.68,"b":1995.3},{"g":3,"p":9.67,"a":1992.32,"b":1995.57},{"g":3,"p":9.95,"a":1991.73,"b":1995.05},{"g":3,"p":10.3,"a":1992.32,"b":1995.77},{"g":3,"p":10.67,"a":1992.2,"b":1995.05},{"g":3,"p":11.1,"a":1991.8,"b":1994.66},{"g":3,"p":11.6,"a":1992.97,"b":1994.53},{"g":3,"p":12.2,"a":1994,"b":1994},
{"g":4,"p":7.58,"a":1999.01,"b":1999.01},{"g":4,"p":7.76,"a":1997.9,"b":1999.92},{"g":4,"p":8.16,"a":1997.25,"b":1999.71},{"g":4,"p":8.36,"a":1997.77,"b":2000.49},{"g":4,"p":8.72,"a":1997,"b":2000.1},{"g":4,"p":8.92,"a":1997.38,"b":2000.62},{"g":4,"p":9.38,"a":1996.47,"b":2000.18},{"g":4,"p":9.61,"a":1997.12,"b":2000.36},{"g":4,"p":9.9,"a":1996.47,"b":2000.1},{"g":4,"p":10.3,"a":1997.25,"b":2000.7},{"g":4,"p":10.67,"a":1997,"b":2000.1},{"g":4,"p":11.1,"a":1996.73,"b":1999.58},{"g":4,"p":11.6,"a":1998.03,"b":1999.58},{"g":4,"p":12.15,"a":1999.01,"b":1999.01},
{"g":5,"p":5.99,"a":2004,"b":2004},{"g":5,"p":6.67,"a":2003.34,"b":2004.3},{"g":5,"p":7.21,"a":2002.43,"b":2004.3},{"g":5,"p":7.41,"a":2003.08,"b":2005.2},{"g":5,"p":8.07,"a":2001.65,"b":2004.76},{"g":5,"p":8.29,"a":2002.17,"b":2005.2},{"g":5,"p":8.74,"a":2001.52,"b":2004.76},{"g":5,"p":8.92,"a":2002.04,"b":2005.2},{"g":5,"p":9.36,"a":2001.26,"b":2004.76},{"g":5,"p":9.63,"a":2001.78,"b":2005.02},{"g":5,"p":9.79,"a":2001.26,"b":2005.28},{"g":5,"p":10.3,"a":2002.17,"b":2005.54},{"g":5,"p":10.63,"a":2001.65,"b":2005.02},{"g":5,"p":10.96,"a":2001.78,"b":2004.63},{"g":5,"p":11.85,"a":2003.08,"b":2005.02},{"g":5,"p":12.3,"a":2003.73,"b":2004.9},{"g":5,"p":12.58,"a":2004,"b":2004},
{"g":6,"p":6.3,"a":2006.97,"b":2007.23},{"g":6,"p":6.34,"a":2006.9,"b":2008},{"g":6,"p":7.21,"a":2006.3,"b":2008.39},{"g":6,"p":7.41,"a":2007.1,"b":2009.3},{"g":6,"p":8.1,"a":2006.06,"b":2009.09},{"g":6,"p":8.33,"a":2006.7,"b":2009.43},{"g":6,"p":8.79,"a":2006.24,"b":2008.91},{"g":6,"p":9,"a":2006.84,"b":2009.43},{"g":6,"p":9.31,"a":2006.14,"b":2009.04},{"g":6,"p":9.75,"a":2006.4,"b":2009.04},{"g":6,"p":10.36,"a":2007.2,"b":2010.08},{"g":6,"p":10.6,"a":2006.97,"b":2009.69},{"g":6,"p":11.5,"a":2008.13,"b":2009.43},{"g":6,"p":11.92,"a":2008.78,"b":2010.08},{"g":6,"p":12.3,"a":2009.82,"b":2010.08},
{"g":7,"p":6.47,"a":2010.98,"b":2010.98},{"g":7,"p":6.72,"a":2010.54,"b":2011.63},{"g":7,"p":7.21,"a":2010.34,"b":2011.89},{"g":7,"p":7.41,"a":2011.24,"b":2012.93},{"g":7,"p":8.1,"a":2010.52,"b":2012.41},{"g":7,"p":8.33,"a":2011.32,"b":2013.14},{"g":7,"p":8.79,"a":2010.98,"b":2012.72},{"g":7,"p":9,"a":2011.63,"b":2013.4},{"g":7,"p":9.37,"a":2011.37,"b":2012.67},{"g":7,"p":9.63,"a":2012.02,"b":2013.19},{"g":7,"p":9.84,"a":2011.89,"b":2011.89},
{"g":8,"p":3.78,"a":2004,"b":2004},{"g":8,"p":3.86,"a":2003.85,"b":2004.15},{"g":8,"p":3.93,"a":2004,"b":2004},
{"g":9,"p":4.04,"a":2004,"b":2004},{"g":9,"p":4.1,"a":2003.75,"b":2004.25},{"g":9,"p":4.16,"a":2004,"b":2004},
{"g":10,"p":4.23,"a":2004,"b":2004},{"g":10,"p":4.38,"a":2003.75,"b":2004.25},{"g":10,"p":4.52,"a":2004,"b":2004},
{"g":11,"p":4.63,"a":2004,"b":2004},{"g":11,"p":4.74,"a":2003.8,"b":2004.2},{"g":11,"p":4.86,"a":2004,"b":2004},
{"g":12,"p":16.8,"a":2001,"b":2001},{"g":12,"p":17.35,"a":2000,"b":2001.39},{"g":12,"p":18.06,"a":1999.7,"b":2002.17},{"g":12,"p":18.6,"a":1999.5,"b":2003.15},{"g":12,"p":19.5,"a":1999.84,"b":2003.15},{"g":12,"p":20,"a":1999.5,"b":2003.13},
{"g":13,"p":16.9,"a":1991.9,"b":1992.2},{"g":13,"p":17.7,"a":1992,"b":1992.2},
{"g":14,"p":18.5,"a":1992.84,"b":1992.9},{"g":14,"p":19,"a":1993.02,"b":1993.1}],
"p2m":[
{"g":1,"p":7.38,"a":1989.08,"b":1989.08},{"g":1,"p":8.11,"a":1988.18,"b":1989.6},{"g":1,"p":10.66,"a":1987.79,"b":1990},{"g":1,"p":11.54,"a":1988.57,"b":1989.47},{"g":1,"p":12.15,"a":1989.08,"b":1989.08},
{"g":2,"p":7.8,"a":1993.88,"b":1993.88},{"g":2,"p":8.16,"a":1992.97,"b":1994.27},{"g":2,"p":11.2,"a":1992.45,"b":1994.4},{"g":2,"p":11.6,"a":1993.5,"b":1993.5},
{"g":3,"p":7.8,"a":1998.93,"b":1998.93},{"g":3,"p":8.16,"a":1997.9,"b":1999.58},{"g":3,"p":11,"a":1997.4,"b":1999.3},{"g":3,"p":11.6,"a":1998.68,"b":1998.68},
{"g":4,"p":7.3,"a":2003.6,"b":2004.12},{"g":4,"p":8.33,"a":2002.56,"b":2004.76},{"g":4,"p":10.3,"a":2002.04,"b":2005.02},{"g":4,"p":11.7,"a":2003.73,"b":2004.63},{"g":4,"p":12.1,"a":2004.25,"b":2004.25},
{"g":5,"p":6.6,"a":2007.5,"b":2007.88},{"g":5,"p":7.33,"a":2007.5,"b":2008.39},{"g":5,"p":9,"a":2006.84,"b":2008.91},{"g":5,"p":10.5,"a":2007.74,"b":2009.43},{"g":5,"p":11.6,"a":2008.65,"b":2009.17},
{"g":6,"p":6.75,"a":2010.98,"b":2011.37},{"g":6,"p":7.54,"a":2011.63,"b":2012.41},{"g":6,"p":8.43,"a":2011.63,"b":2012.67},{"g":6,"p":9.2,"a":2011.89,"b":2012.54}],
"p2c8":[
{"g":1,"p":8.19,"a":1989.03,"b":1989.2},{"g":1,"p":8.4,"a":1988.57,"b":1989.6},{"g":1,"p":8.78,"a":1988.18,"b":1989.73},{"g":1,"p":8.94,"a":1987.66,"b":1990.38},{"g":1,"p":9.18,"a":1988.3,"b":1990},{"g":1,"p":9.47,"a":1987.79,"b":1989.73},{"g":1,"p":9.77,"a":1988.44,"b":1990.38},{"g":1,"p":10.14,"a":1987.79,"b":1989.73},{"g":1,"p":10.53,"a":1988.3,"b":1990.38},{"g":1,"p":10.86,"a":1987.92,"b":1989.73},{"g":1,"p":11.1,"a":1987.92,"b":1989.34},{"g":1,"p":11.44,"a":1988.18,"b":1988.18},
{"g":2,"p":8.26,"a":1993.88,"b":1994.14},{"g":2,"p":8.58,"a":1992.97,"b":1994.4},{"g":2,"p":8.92,"a":1992.4,"b":1995.36},{"g":2,"p":9.2,"a":1992.84,"b":1994.79},{"g":2,"p":9.44,"a":1992.07,"b":1995.1},{"g":2,"p":9.77,"a":1992.71,"b":1994.66},{"g":2,"p":10.1,"a":1992.07,"b":1994.92},{"g":2,"p":10.3,"a":1992.71,"b":1995.43},{"g":2,"p":10.67,"a":1992.4,"b":1994.66},{"g":2,"p":10.97,"a":1992.71,"b":1994.27},{"g":2,"p":11.27,"a":1993.1,"b":1993.1},
{"g":3,"p":8.2,"a":1998.93,"b":1999.19},{"g":3,"p":8.49,"a":1998.03,"b":1999.58},{"g":3,"p":8.87,"a":1997.38,"b":2000.28},{"g":3,"p":9.2,"a":1997.77,"b":1999.84},{"g":3,"p":9.44,"a":1997,"b":1999.71},{"g":3,"p":9.77,"a":1997.64,"b":2000.1},{"g":3,"p":9.95,"a":1997,"b":1999.5},{"g":3,"p":10.3,"a":1997.64,"b":2000.36},{"g":3,"p":10.67,"a":1997.25,"b":1999.58},{"g":3,"p":11.02,"a":1997.51,"b":1999.25},{"g":3,"p":11.3,"a":1998.03,"b":1998.03},
{"g":4,"p":7.39,"a":2003.91,"b":2004.06},{"g":4,"p":7.66,"a":2003.47,"b":2004.25},{"g":4,"p":8.1,"a":2002.3,"b":2004.32},{"g":4,"p":8.33,"a":2002.82,"b":2005.02},{"g":4,"p":8.71,"a":2002.04,"b":2004.5},{"g":4,"p":8.92,"a":2002.56,"b":2004.9},{"g":4,"p":9.37,"a":2001.78,"b":2004.37},{"g":4,"p":9.75,"a":2002.43,"b":2004.9},{"g":4,"p":10.3,"a":2001.91,"b":2005.15},{"g":4,"p":10.8,"a":2002.3,"b":2004.25},{"g":4,"p":11.2,"a":2002.95,"b":2003.47},
{"g":5,"p":7.3,"a":2007.74,"b":2008.26},{"g":5,"p":7.5,"a":2007.35,"b":2008.39},{"g":5,"p":8.06,"a":2006.66,"b":2008.52},{"g":5,"p":8.27,"a":2007.23,"b":2009.35},{"g":5,"p":8.79,"a":2006.66,"b":2008.83},{"g":5,"p":9,"a":2007.18,"b":2009.35},{"g":5,"p":9.31,"a":2006.19,"b":2008.65},{"g":5,"p":9.75,"a":2007.23,"b":2008.83},{"g":5,"p":10.13,"a":2007.87,"b":2009.09},{"g":5,"p":10.37,"a":2009.09,"b":2009.09}],
"p2c10":[
{"g":1,"p":8.9,"a":1994.06,"b":1994.06},{"g":1,"p":9.2,"a":1993.5,"b":1994.27},{"g":1,"p":9.44,"a":1992.9,"b":1994.27},{"g":1,"p":9.77,"a":1993.55,"b":1994},{"g":1,"p":9.95,"a":1992.9,"b":1994.4},{"g":1,"p":10.3,"a":1993.5,"b":1994.4},{"g":1,"p":10.56,"a":1994,"b":1994.4},
{"g":2,"p":8.8,"a":1999.06,"b":1999.25},{"g":2,"p":9.13,"a":1998.16,"b":1999.4},{"g":2,"p":9.44,"a":1997.56,"b":1999.4},{"g":2,"p":9.77,"a":1998.21,"b":1999.06},{"g":2,"p":9.95,"a":1997.56,"b":1999.58},{"g":2,"p":10.3,"a":1998.21,"b":1999.5},{"g":2,"p":10.56,"a":1999.06,"b":1999.25},
{"g":3,"p":8.29,"a":2003.86,"b":2004.06},{"g":3,"p":8.52,"a":2002.95,"b":2004.06},{"g":3,"p":8.75,"a":2002.61,"b":2003.91},{"g":3,"p":9,"a":2003.03,"b":2004.06},{"g":3,"p":9.37,"a":2002.3,"b":2004.3},{"g":3,"p":9.58,"a":2002.69,"b":2003.73},{"g":3,"p":9.84,"a":2002.69,"b":2004.17},{"g":3,"p":10.4,"a":2003.99,"b":2004.17}],
"p2d":[{"a":1989.06,"p":9.66},{"a":1989.06,"p":10.2},{"a":1998.03,"p":8.72},{"a":1998.03,"p":10.65},{"a":2007.02,"p":7.2},{"a":2007.95,"p":8.4},{"a":2004,"p":3.86},{"a":2008.96,"p":12.76},{"a":2009.95,"p":17.9}],
"cb":[{"v":0.25,"l":0,"h":0.5,"a":0,"b":1},{"v":0.75,"l":0.5,"h":1,"a":0,"b":1},{"v":1.25,"l":1,"h":1.5,"a":0,"b":1},{"v":1.75,"l":1.5,"h":2,"a":0,"b":1},{"v":2.25,"l":2,"h":2.5,"a":0,"b":1},{"v":2.75,"l":2.5,"h":3,"a":0,"b":1},{"v":3.25,"l":3,"h":3.5,"a":0,"b":1},{"v":3.75,"l":3.5,"h":4,"a":0,"b":1},{"v":4.25,"l":4,"h":4.5,"a":0,"b":1},{"v":4.75,"l":4.5,"h":5,"a":0,"b":1},{"v":5.25,"l":5,"h":5.5,"a":0,"b":1},{"v":5.75,"l":5.5,"h":6,"a":0,"b":1},{"v":6.25,"l":6,"h":6.5,"a":0,"b":1},{"v":6.75,"l":6.5,"h":7,"a":0,"b":1},{"v":7.25,"l":7,"h":7.5,"a":0,"b":1},{"v":7.75,"l":7.5,"h":8,"a":0,"b":1},{"v":8.25,"l":8,"h":8.5,"a":0,"b":1},{"v":8.75,"l":8.5,"h":9,"a":0,"b":1},{"v":9.25,"l":9,"h":9.5,"a":0,"b":1},{"v":9.75,"l":9.5,"h":10,"a":0,"b":1},{"v":10.25,"l":10,"h":10.5,"a":0,"b":1},{"v":10.75,"l":10.5,"h":11,"a":0,"b":1},{"v":11.25,"l":11,"h":11.5,"a":0,"b":1},{"v":11.75,"l":11.5,"h":12,"a":0,"b":1}],
"tri":[{"h":12,"a":0,"b":1},{"h":12.66,"a":0.5,"b":0.5}],
"box":[{"h":0,"a":0,"b":1},{"h":12,"a":0,"b":1}]
},
"hconcat":[
{"width":526,"height":568,"title":{"text":"PC1","offset":-6},
"encoding":{"x":{"field":"a","type":"quantitative","scale":{"domain":[1981.1,2022],"nice":false,"zero":false},"axis":{"values":[1985,1990,1995,2000,2005,2010,2015,2020],"format":"d","title":"Year","titlePadding":4,"labelPadding":4}},"x2":{"field":"b"},"y":{"field":"p","type":"quantitative","scale":{"type":"log","domain":[3,20],"nice":false,"reverse":true},"axis":{"values":[3,4,5,6,7,8,9,10,15,20],"labelExpr":"datum.value==8||datum.value==9?'':datum.label","title":"Period (Years)","titleFontSize":30,"labelFontSize":20,"titlePadding":10}},"detail":{"field":"g","type":"nominal"}},
"layer":[
{"data":{"name":"frame"},"mark":{"type":"rect","fill":"#fcf3b5"},"encoding":{"y2":{"field":"q"}}},
{"data":{"name":"p1b"},"mark":{"type":"area","orient":"horizontal","clip":true},"encoding":{"fill":{"field":"v","type":"ordinal","legend":null,"scale":{"domain":[0.25,0.75,1.25,1.75,2.25,2.75,3.25,3.75,4.25,4.75,5.25,5.75,6.25,6.75,7.25,7.75,8.25,8.75,9.25,9.75,10.25,10.75,11.25,11.75],"range":["#fcf3b5","#fedfa3","#fecd90","#febb81","#fea873","#fd9266","#fb7f5f","#f56b5c","#ea5a62","#df4a68","#cf4170","#bf3b76","#ae347b","#9c2e7f","#8b2981","#7a2381","#681c81","#581680","#4a1079","#380f6c","#27125a","#1b1042","#0f0b2a","#05040f"]}}}},
{"data":{"name":"p1c4"},"mark":{"type":"area","orient":"horizontal","clip":true,"fill":"#fedfa3","stroke":"#fecd90","strokeWidth":22}},
{"data":{"name":"p1c4"},"mark":{"type":"area","orient":"horizontal","clip":true,"fill":"#febb81","stroke":"#febb81","strokeWidth":15}},
{"data":{"name":"p1c4"},"mark":{"type":"area","orient":"horizontal","clip":true,"fill":"#fd9266","stroke":"#fd9266","strokeWidth":9}},
{"data":{"name":"p1c4"},"mark":{"type":"area","orient":"horizontal","clip":true,"fill":"#ea5a62","stroke":"#f56b5c","strokeWidth":5}},
{"data":{"name":"p1m"},"mark":{"type":"area","orient":"horizontal","clip":true,"fill":"#bf3b76","stroke":"#d54468","strokeWidth":7}},
{"data":{"name":"p1c8"},"mark":{"type":"area","orient":"horizontal","clip":true,"fill":"#681c81","stroke":"#8b2981","strokeWidth":5}},
{"data":{"name":"p1c10"},"mark":{"type":"area","orient":"horizontal","clip":true,"fill":"#2d1160"}},
{"data":{"name":"p1c4"},"mark":{"type":"area","orient":"horizontal","clip":true,"fillOpacity":0,"stroke":"#000","strokeWidth":2.4}},
{"data":{"name":"p1c8"},"mark":{"type":"area","orient":"horizontal","clip":true,"fillOpacity":0,"stroke":"#000","strokeWidth":2.4}},
{"data":{"name":"p1c10"},"mark":{"type":"area","orient":"horizontal","clip":true,"fillOpacity":0,"stroke":"#000","strokeWidth":2.4}},
{"data":{"name":"p1d"},"mark":{"type":"circle","color":"#000","size":14,"opacity":1}},
{"data":{"name":"coi"},"mark":{"type":"area","orient":"horizontal","fill":"#d4d4d0","opacity":0.9,"clip":true}},
{"data":{"name":"hatch"},"mark":{"type":"rule","stroke":"#111","strokeWidth":1.2,"clip":true},"encoding":{"y2":{"field":"q"}}},
{"data":{"name":"coi"},"mark":{"type":"line","stroke":"#a6a6a6","strokeWidth":4,"strokeDash":[11,6],"clip":true},"encoding":{"x":{"field":"c","type":"quantitative"},"x2":null,"order":{"field":"p"}}},
{"data":{"name":"frame"},"mark":{"type":"rect","fillOpacity":0,"stroke":"#333","strokeWidth":2},"encoding":{"y2":{"field":"q"}}}
]},
{"spacing":5,"hconcat":[
{"width":526,"height":568,"title":{"text":"PC2","offset":2},
"encoding":{"x":{"field":"a","type":"quantitative","scale":{"domain":[1981.1,2022],"nice":false,"zero":false},"axis":{"values":[1985,1990,1995,2000,2005,2010,2015,2020],"format":"d","title":"Year","titlePadding":4,"labelPadding":4}},"x2":{"field":"b"},"y":{"field":"p","type":"quantitative","scale":{"type":"log","domain":[3,20],"nice":false,"reverse":true},"axis":{"values":[3,4,5,6,7,8,9,10,15,20],"labels":false,"title":null}},"detail":{"field":"g","type":"nominal"}},
"layer":[
{"data":{"name":"frame"},"mark":{"type":"rect","fill":"#fcf3b5"},"encoding":{"y2":{"field":"q"}}},
{"data":{"name":"p2b"},"mark":{"type":"area","orient":"horizontal","clip":true},"encoding":{"fill":{"field":"v","type":"ordinal","legend":null,"scale":{"domain":[0.25,0.75,1.25,1.75,2.25,2.75,3.25,3.75,4.25,4.75,5.25,5.75,6.25,6.75,7.25,7.75,8.25,8.75,9.25,9.75,10.25,10.75,11.25,11.75],"range":["#fcf3b5","#fedfa3","#fecd90","#febb81","#fea873","#fd9266","#fb7f5f","#f56b5c","#ea5a62","#df4a68","#cf4170","#bf3b76","#ae347b","#9c2e7f","#8b2981","#7a2381","#681c81","#581680","#4a1079","#380f6c","#27125a","#1b1042","#0f0b2a","#05040f"]}}}},
{"data":{"name":"p2c4"},"mark":{"type":"area","orient":"horizontal","clip":true,"fill":"#fedfa3","stroke":"#fecd90","strokeWidth":22}},
{"data":{"name":"p2c4"},"mark":{"type":"area","orient":"horizontal","clip":true,"fill":"#febb81","stroke":"#febb81","strokeWidth":15}},
{"data":{"name":"p2c4"},"mark":{"type":"area","orient":"horizontal","clip":true,"fill":"#fd9266","stroke":"#fd9266","strokeWidth":9}},
{"data":{"name":"p2c4"},"mark":{"type":"area","orient":"horizontal","clip":true,"fill":"#ea5a62","stroke":"#f56b5c","strokeWidth":5}},
{"data":{"name":"p2m"},"mark":{"type":"area","orient":"horizontal","clip":true,"fill":"#bf3b76","stroke":"#d54468","strokeWidth":7}},
{"data":{"name":"p2c8"},"mark":{"type":"area","orient":"horizontal","clip":true,"fill":"#581680","stroke":"#7a2381","strokeWidth":5}},
{"data":{"name":"p2c10"},"mark":{"type":"area","orient":"horizontal","clip":true,"fill":"#1f1150","stroke":"#2d1160","strokeWidth":3}},
{"data":{"name":"p2c4"},"mark":{"type":"area","orient":"horizontal","clip":true,"fillOpacity":0,"stroke":"#000","strokeWidth":2.4}},
{"data":{"name":"p2c8"},"mark":{"type":"area","orient":"horizontal","clip":true,"fillOpacity":0,"stroke":"#000","strokeWidth":2.4}},
{"data":{"name":"p2c10"},"mark":{"type":"area","orient":"horizontal","clip":true,"fillOpacity":0,"stroke":"#000","strokeWidth":2.4}},
{"data":{"name":"p2d"},"mark":{"type":"circle","color":"#000","size":14,"opacity":1}},
{"data":{"name":"coi"},"mark":{"type":"area","orient":"horizontal","fill":"#d4d4d0","opacity":0.9,"clip":true}},
{"data":{"name":"hatch"},"mark":{"type":"rule","stroke":"#111","strokeWidth":1.2,"clip":true},"encoding":{"y2":{"field":"q"}}},
{"data":{"name":"coi"},"mark":{"type":"line","stroke":"#a6a6a6","strokeWidth":4,"strokeDash":[11,6],"clip":true},"encoding":{"x":{"field":"c","type":"quantitative"},"x2":null,"order":{"field":"p"}}},
{"data":{"name":"frame"},"mark":{"type":"rect","fillOpacity":0,"stroke":"#333","strokeWidth":2},"encoding":{"y2":{"field":"q"}}}
]},
{"width":39,"height":568,
"encoding":{"x":{"field":"a","type":"quantitative","scale":{"domain":[0,1],"nice":false,"zero":false},"axis":null},"x2":{"field":"b"},"y":{"field":"h","type":"quantitative","scale":{"domain":[0,13],"nice":false,"zero":false},"axis":{"orient":"right","values":[0,1,2,3,4,5,6,7,8,9,10,11,12],"format":"d","labelFontSize":25,"title":null,"tickSize":6}}},
"layer":[
{"data":{"name":"cb"},"mark":{"type":"rect"},"encoding":{"y":{"field":"l","type":"quantitative"},"y2":{"field":"h"},"fill":{"field":"v","type":"ordinal","legend":null,"scale":{"domain":[0.25,0.75,1.25,1.75,2.25,2.75,3.25,3.75,4.25,4.75,5.25,5.75,6.25,6.75,7.25,7.75,8.25,8.75,9.25,9.75,10.25,10.75,11.25,11.75],"range":["#fcf3b5","#fedfa3","#fecd90","#febb81","#fea873","#fd9266","#fb7f5f","#f56b5c","#ea5a62","#df4a68","#cf4170","#bf3b76","#ae347b","#9c2e7f","#8b2981","#7a2381","#681c81","#581680","#4a1079","#380f6c","#27125a","#1b1042","#0f0b2a","#05040f"]}}}},
{"data":{"name":"box"},"mark":{"type":"area","orient":"horizontal","fillOpacity":0,"stroke":"#111","strokeWidth":2}},
{"data":{"name":"tri"},"mark":{"type":"area","orient":"horizontal","fill":"#000"}}
]}
]}
]}
